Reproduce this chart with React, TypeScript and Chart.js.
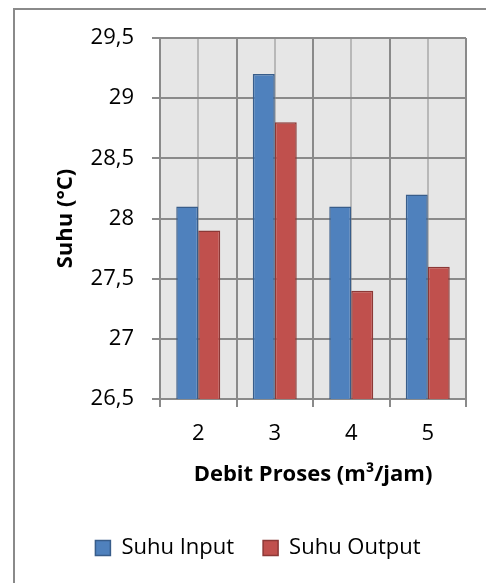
import React, { useEffect, useRef } from 'react';
import { Chart, registerables } from 'chart.js';

Chart.register(...registerables);

// Flow rate categories (m³/jam) and measured temperatures (°C)
const categories = ['2', '3', '4', '5'];
const suhuInput = [28.1, 29.2, 28.1, 28.2];
const suhuOutput = [27.9, 28.8, 27.4, 27.6];
const yTicks = [26.5, 27, 27.5, 28, 28.5, 29, 29.5];

const FONT = "'Open Sans', sans-serif";
const SIZE = 22;
const GRID = '#8a8a8a';
const MINOR = '#b8b8b8';
const PLOT_BG = '#e6e6e6';

// Grey plot background plus lighter lines through each category centre
const plotBackground = {
  id: 'plotBackground',
  beforeDraw(chart: any) {
    const { ctx, chartArea, scales } = chart;
    if (!chartArea) return;
    ctx.save();
    ctx.fillStyle = PLOT_BG;
    ctx.fillRect(chartArea.left, chartArea.top, chartArea.right - chartArea.left, chartArea.bottom - chartArea.top);
    ctx.strokeStyle = MINOR;
    ctx.lineWidth = 2;
    categories.forEach((_, i) => {
      const x = Math.round(scales.x.getPixelForValue(i));
      ctx.beginPath();
      ctx.moveTo(x, chartArea.top);
      ctx.lineTo(x, chartArea.bottom);
      ctx.stroke();
    });
    ctx.restore();
  },
};

export default function App() {
  const canvasRef = useRef<HTMLCanvasElement | null>(null);

  useEffect(() => {
    if (!canvasRef.current) return;
    Chart.defaults.font.family = FONT;
    Chart.defaults.color = '#000';
    const chart = new Chart(canvasRef.current, {
      type: 'bar',
      data: {
        labels: categories,
        datasets: [
          {
            label: 'Suhu Input',
            data: suhuInput,
            backgroundColor: '#4F81BD',
            borderColor: '#385D8A',
            borderWidth: 1.5,
            borderSkipped: false,
            categoryPercentage: 0.575,
            barPercentage: 1,
          },
          {
            label: 'Suhu Output',
            data: suhuOutput,
            backgroundColor: '#C0504D',
            borderColor: '#8C3836',
            borderWidth: 1.5,
            borderSkipped: false,
            categoryPercentage: 0.575,
            barPercentage: 1,
          },
        ],
      },
      options: {
        responsive: false,
        animation: false,
        layout: { padding: { left: 50, right: 20, top: 38, bottom: 14 } },
        plugins: {
          legend: {
            position: 'bottom',
            labels: {
              boxWidth: 15,
              boxHeight: 15,
              padding: 29,
              color: '#000',
              font: { family: FONT, size: SIZE },
            },
          },
          tooltip: { enabled: false },
        },
        scales: {
          x: {
            grid: { color: GRID, lineWidth: 2, tickLength: 8, offset: true },
            border: { color: GRID, width: 2 },
            ticks: { color: '#000', font: { family: FONT, size: SIZE }, padding: 14 },
            title: {
              display: true,
              text: 'Debit Proses (m³/jam)',
              color: '#000',
              font: { family: FONT, size: SIZE, weight: 'bold' },
              padding: { top: 0, bottom: 20 },
            },
            afterFit: (scale: any) => {
              scale.height = 109;
            },
          },
          y: {
            min: yTicks[0],
            max: yTicks[yTicks.length - 1],
            afterBuildTicks: (scale: any) => {
              scale.ticks = yTicks.map((v) => ({ value: v }));
            },
            grid: { color: GRID, lineWidth: 2, tickLength: 8 },
            border: { color: GRID, width: 2 },
            ticks: {
              color: '#000',
              font: { family: FONT, size: SIZE },
              padding: 18,
              callback: (v: any) => String(v).replace('.', ','),
            },
            title: {
              display: true,
              text: 'Suhu (°C)',
              color: '#000',
              font: { family: FONT, size: SIZE, weight: 'bold' },
              padding: { top: 3, bottom: 0 },
            },
            afterFit: (scale: any) => {
              scale.width = 110;
            },
          },
        },
      },
      plugins: [plotBackground],
    });
    return () => chart.destroy();
  }, []);

  return (
    <div
      style={{
        position: 'fixed',
        left: 0,
        top: 0,
        width: 486,
        height: 583,
        overflow: 'hidden',
        background: '#fff',
      }}
    >
      <div
        style={{
          position: 'absolute',
          left: 13,
          top: 8,
          width: 520,
          height: 620,
          border: '2px solid #8a8a8a',
          boxSizing: 'border-box',
        }}
      />
      <canvas
        ref={canvasRef}
        width={486}
        height={583}
        style={{ position: 'absolute', left: 0, top: 0, width: 486, height: 583 }}
      />
    </div>
  );
}
